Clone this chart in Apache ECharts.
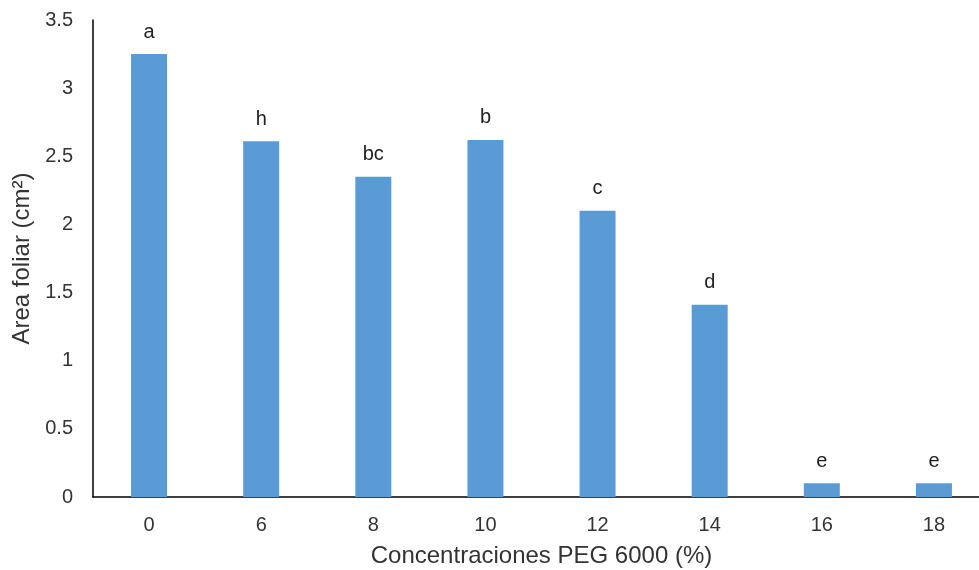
<!DOCTYPE html>
<html>
<head>
<meta charset="utf-8">
<script src="https://cdn.jsdelivr.net/npm/echarts@6/dist/echarts.min.js"></script>
<style>html,body{margin:0;padding:0;background:#fff}#c{width:979px;height:570px}</style>
</head>
<body>
<div id="c"></div>
<script>
const categories = ['0', '6', '8', '10', '12', '14', '16', '18'];
const values = [3.25, 2.61, 2.35, 2.62, 2.10, 1.41, 0.10, 0.10];
const letters = ['a', 'h', 'bc', 'b', 'c', 'd', 'e', 'e'];

const chart = echarts.init(document.getElementById('c'));
const font = 'Liberation Sans, Arial, sans-serif';
chart.setOption({
  animation: false,
  grid: { left: 93, right: -11, top: 20, bottom: 73, containLabel: false, outerBoundsMode: 'none' },
  xAxis: {
    type: 'category',
    data: categories,
    name: 'Concentraciones PEG 6000 (%)',
    nameLocation: 'middle',
    nameGap: 47,
    nameTextStyle: { fontFamily: font, fontSize: 24, color: '#333' },
    axisLine: { lineStyle: { color: '#000', width: 1.5 } },
    axisTick: { show: false },
    axisLabel: { fontFamily: font, fontSize: 20, color: '#333', margin: 18 }
  },
  yAxis: {
    type: 'value',
    min: 0, max: 3.5, interval: 0.5,
    name: 'Area foliar (cm²)',
    nameLocation: 'middle',
    nameGap: 55,
    nameTextStyle: { fontFamily: font, fontSize: 24, color: '#333' },
    axisLine: { show: true, lineStyle: { color: '#000', width: 1.5 } },
    axisTick: { show: false },
    splitLine: { show: false },
    axisLabel: { fontFamily: font, fontSize: 20, color: '#333', margin: 20 }
  },
  series: [{
    type: 'bar',
    data: values,
    barWidth: 36,
    itemStyle: { color: '#5B9BD5' },
    label: {
      show: true,
      position: 'top',
      distance: 12,
      fontFamily: font,
      fontSize: 20,
      color: '#222',
      formatter: p => letters[p.dataIndex]
    }
  }]
});
</script>
</body>
</html>
